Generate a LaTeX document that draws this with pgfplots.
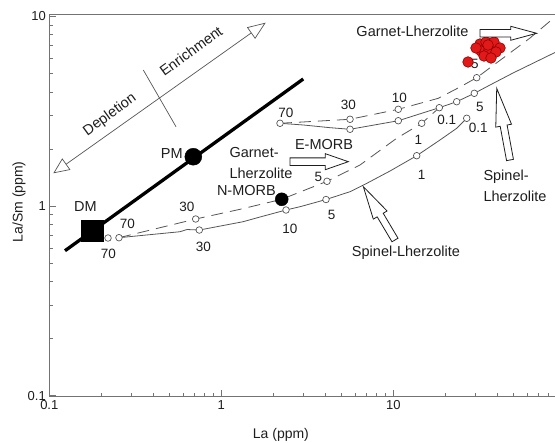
\documentclass[border=0pt]{standalone}
\usepackage{fontspec}
\setmainfont{Liberation Sans}
\usepackage{pgfplots}
\pgfplotsset{compat=1.18}
\usepackage{pgfplotstable}
\usetikzlibrary{arrows.meta}

\definecolor{axgray}{RGB}{115,115,115}
\definecolor{curve}{RGB}{85,85,85}
\definecolor{txt}{RGB}{30,30,30}
\definecolor{redfill}{RGB}{225,25,25}
\definecolor{reddraw}{RGB}{140,0,0}

\pgfplotstableread{
x y
0.2542 0.6805
0.5752 0.7318
0.6318 0.7516
0.7450 0.7469
1.3370 0.8262
1.679 0.8750
2.378 0.9526
2.869 0.9915
4.062 1.082
5.602 1.190
6.847 1.302
9.568 1.530
13.68 1.843
18.68 2.230
23.36 2.570
26.72 2.903
}\dmspinel

\pgfplotstableread{
x y
0.2542 0.6805
0.7098 0.8540
1.2846 0.9607
2.245 1.085
4.117 1.350
6.404 1.646
10.46 2.277
14.63 2.732
18.51 3.302
}\dmgarnet

\pgfplotstableread{
x y
2.194 2.732
5.602 2.868
10.69 3.238
18.26 3.701
24.42 4.246
30.54 4.754
62.35 7.700
87.1 9.94
}\emgarnet

\pgfplotstableread{
x y
2.194 2.732
2.997 2.676
4.285 2.590
5.602 2.540
10.69 2.818
18.51 3.302
23.36 3.551
29.57 3.932
36.49 4.350
49.66 5.033
87.1 6.457
}\emspinel

\pgfplotstableread{
x y
0.2195 0.6779
0.2542 0.6805
0.7098 0.8540
0.7450 0.7469
2.378 0.9526
4.062 1.082
4.117 1.350
13.68 1.843
14.63 2.732
18.51 3.302
23.36 3.551
26.72 2.903
29.57 3.932
30.54 4.754
2.194 2.732
5.602 2.868
5.602 2.540
10.69 3.238
10.69 2.818
}\opencircles

\pgfplotstableread{
x y
27.19 5.754
31.92 7.158
34.59 7.334
38.50 7.334
41.72 6.820
32.35 6.575
36.01 6.657
39.55 6.496
33.68 6.187
36.98 6.039
30.25 6.820
35.53 7.072
}\garnetlherz

\pgfplotstableread{
x y
0.1234 0.581
2.996 4.68
}\pmline

\newcommand{\blockarrow}[7]{%
  \begin{scope}[shift={(#1,#2)},rotate=#3]
    \filldraw[fill=white,draw=txt,line width=0.8pt,line join=miter]
      (0,-#7) -- ({#4-#5},-#7) -- ({#4-#5},-#6) -- (#4,0) -- ({#4-#5},#6) -- ({#4-#5},#7) -- (0,#7) -- cycle;
  \end{scope}}

\begin{document}
\begin{tikzpicture}
\begin{axis}[
  at={(49.3pt,46.3pt)}, anchor=south west,
  scale only axis, width=505.7pt, height=382pt,
  xmode=log, ymode=log,
  xmin=0.1, xmax=87.1, ymin=0.0986, ymax=10.22,
  axis lines*=left,
  axis line style={-, axgray, line width=0.9pt},
  tick align=inside,
  tick style={axgray, line width=0.7pt},
  major tick length=7pt, minor tick length=4pt,
  log ticks with fixed point,
  /pgf/number format/assume math mode=true,
  ticklabel style={font=\fontsize{13}{13}\selectfont, text=txt},
  xlabel={La (ppm)}, ylabel={La/Sm (ppm)},
  label style={font=\fontsize{14}{14}\selectfont, text=txt},
  xlabel style={at={(axis description cs:0.458,-0.100)}, anchor=center},
  ylabel style={at={(axis description cs:-0.060,0.510)}, anchor=center},
]
\addplot[curve, line width=0.8pt] table {\dmspinel};
\addplot[curve, line width=0.8pt, dash pattern=on 12pt off 7pt] table {\dmgarnet};
\addplot[curve, line width=0.8pt, dash pattern=on 12pt off 7pt] table {\emgarnet};
\addplot[curve, line width=0.8pt] table {\emspinel};
\addplot[black, line width=3.3pt] table {\pmline};
\addplot[only marks, mark=*, mark size=3.3pt, mark options={fill=white, draw=curve, line width=0.7pt}] table {\opencircles};
\addplot[only marks, mark=square*, mark size=10.8pt, black] coordinates {(0.1783,0.7397)};
\addplot[only marks, mark=*, mark size=8.5pt, black] coordinates {(0.6875,1.820)};
\addplot[only marks, mark=*, mark size=6.5pt, black] coordinates {(2.245,1.085)};
\node[font=\fontsize{13.5}{14}\selectfont, text=txt] at (axis cs:29.85,5.615) {5};
\addplot[only marks, mark=*, mark size=5.3pt, mark options={fill=redfill, draw=reddraw, line width=0.6pt}] table {\garnetlherz};
\end{axis}

\begin{scope}[yshift=443pt, x=1pt, y=-1pt]
  % top frame line
  \draw[axgray, line width=0.9pt] (49.3,14.7) -- (555,14.7);
  % depletion / enrichment arrow
  \draw[curve, line width=0.7pt, {Triangle[open,length=16pt,width=14pt]}-{Triangle[open,length=18pt,width=14pt]}] (53.3,173.3) -- (265.7,22.7);
  \draw[curve, line width=0.7pt] (143.3,70) -- (176,126.7);
  \begin{scope}[every node/.style={font=\fontsize{14.5}{16}\selectfont, text=txt, inner sep=0pt}]
    \node[rotate=36] at (110,115) {Depletion};
    \node[rotate=36] at (191,51) {Enrichment};
    \node at (171.8,153.3) {PM};
    \node at (85.5,207) {DM};
    \node[anchor=west] at (229.3,153) {Garnet-};
    \node[anchor=west] at (229.3,173) {Lherzolite};
    \node[anchor=east] at (276,191) {N-MORB};
    \node at (324,145) {E-MORB};
    \node at (412.5,31) {Garnet-Lherzolite};
    \node[anchor=west] at (483.3,176.7) {Spinel-};
    \node[anchor=west] at (483.3,196.7) {Lherzolite};
    \node at (406,253) {Spinel-Lherzolite};
  \end{scope}
  \begin{scope}[every node/.style={font=\fontsize{13.5}{14}\selectfont, text=txt, inner sep=0pt}]
    \node at (127.3,224) {70};
    \node at (108.3,254.3) {70};
    \node at (187,207) {30};
    \node at (203.3,246.7) {30};
    \node at (290,228.5) {10};
    \node at (318.3,177.3) {5};
    \node at (331.7,215) {5};
    \node at (418.3,140) {1};
    \node at (421.7,175) {1};
    \node at (446.7,120) {0.1};
    \node at (478.3,128.3) {0.1};
    \node at (286,112.7) {70};
    \node at (348.3,105) {30};
    \node at (399.3,98.3) {10};
    \node at (480,106.7) {5};
  \end{scope}
  % block arrows
  \blockarrow{290}{161.7}{0}{58.3}{23}{8}{3.8}
  \blockarrow{480}{33.3}{0}{56.7}{26}{7}{3.7}
  \blockarrow{510}{160}{100.5}{72.9}{38}{8}{3.5}
  \blockarrow{395}{240}{120.7}{62}{33}{8}{3.5}
\end{scope}
\pgfresetboundingbox
\path[use as bounding box] (0,0) rectangle (555pt,443pt);
\end{tikzpicture}
\end{document}
